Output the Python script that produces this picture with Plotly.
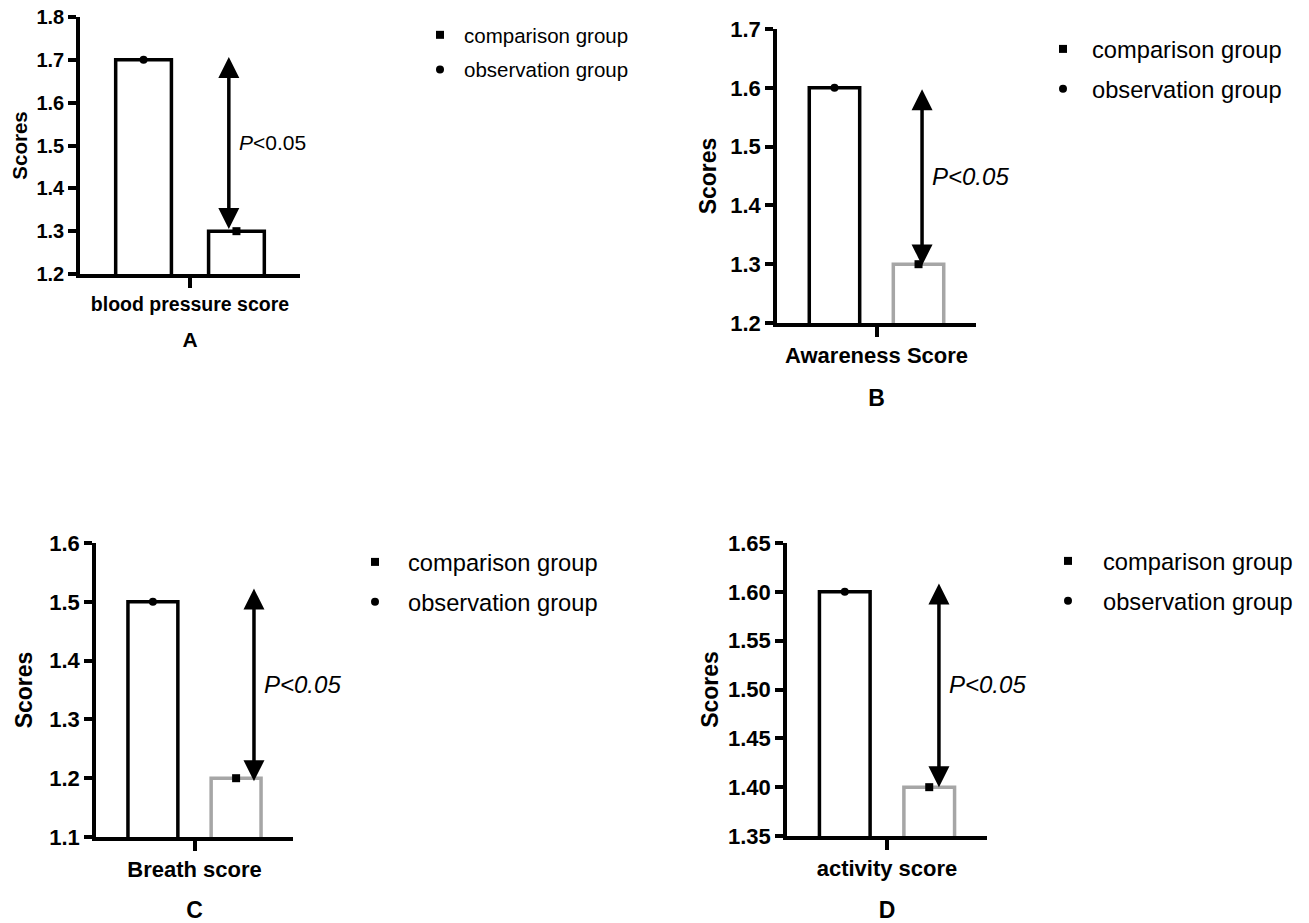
import plotly.graph_objects as go

W, H = 1309, 923

# ---------------- data ----------------
panel_letters = ["A", "B", "C", "D"]
category_labels = ["blood pressure score", "Awareness Score", "Breath score", "activity score"]
observation_name = "observation group"
comparison_name = "comparison group"
observation_scores = [1.7, 1.6, 1.5, 1.6]
comparison_scores = [1.3, 1.3, 1.2, 1.4]
y_ranges = [[1.2, 1.8], [1.2, 1.7], [1.1, 1.6], [1.35, 1.65]]
y_dticks = [0.1, 0.1, 0.1, 0.05]
y_formats = [".1f", ".1f", ".1f", ".2f"]
p_labels = ["<i>P</i>&lt;0.05", "<i>P&lt;0.05</i>", "<i>P&lt;0.05</i>", "<i>P&lt;0.05</i>"]

# ---------------- layout / style (pixels) ----------------
boxes = [(80, 300, 17, 274), (777, 976, 29, 323), (96, 293, 543, 837), (787, 987, 543, 836)]
second_bar_colors = ["#000000", "#a6a6a6", "#a6a6a6", "#a6a6a6"]
tick_sizes = [20, 22, 22, 22]
cat_sizes = [19.5, 22, 22, 22]
ytitle_sizes = [20.5, 23, 23, 23]
letter_sizes = [21, 23, 23, 23]
legend_sizes = [20.5, 23.7, 23.7, 23.7]
p_sizes = [21, 24, 24, 24]
arrow_x = [0.918, 1.042, 1.215, 1.115]
arrow_top_pad = [0.01, 0.0, 0.025, 0.01]
arrow_bot_pad = [0.005, -0.002, -0.005, 0.0]
legend_pos = [(416, 15), (1034, 27), (342, 540), (1033, 539)]
legend_itemwidths = [38, 48, 56, 60]
legend_gaps = [5, 6, 6, 6]
cat_standoff = [19, 24, 24, 24]
ytitle_standoff = [4, 8, 11, 4]

FONT = "Liberation Sans, Arial, sans-serif"
x_range = [-0.684, 1.684]
bar_w = 0.6
LW = 3.5

fig = go.Figure()
layout = dict(
    width=W, height=H, margin=dict(l=0, r=0, t=0, b=0, autoexpand=False),
    paper_bgcolor="white", plot_bgcolor="white",
    font=dict(family=FONT, color="black"),
    showlegend=True,
)

for i in range(4):
    n = "" if i == 0 else str(i + 1)
    xa, ya = "x" + n, "y" + n
    lg = "legend" + n
    x0, x1, y0, y1 = boxes[i]

    fig.add_trace(go.Bar(
        x=[0], y=[observation_scores[i]], width=bar_w, xaxis=xa, yaxis=ya,
        marker=dict(color="white", line=dict(color="black", width=LW)),
        showlegend=False, hoverinfo="skip"))
    fig.add_trace(go.Bar(
        x=[1], y=[comparison_scores[i]], width=bar_w, xaxis=xa, yaxis=ya,
        marker=dict(color="white", line=dict(color=second_bar_colors[i], width=LW)),
        showlegend=False, hoverinfo="skip"))
    fig.add_trace(go.Scatter(
        x=[1], y=[comparison_scores[i]], mode="markers", name=comparison_name,
        xaxis=xa, yaxis=ya, legend=lg, legendgroup="c" + n,
        marker=dict(symbol="square", size=8, color="black"), cliponaxis=False))
    fig.add_trace(go.Scatter(
        x=[0], y=[observation_scores[i]], mode="markers", name=observation_name,
        xaxis=xa, yaxis=ya, legend=lg, legendgroup="o" + n,
        marker=dict(symbol="circle", size=8, color="black"), cliponaxis=False))

    layout["xaxis" + n] = dict(
        domain=[x0 / W, x1 / W], anchor=ya, range=x_range, fixedrange=True, automargin=False,
        showline=True, linecolor="black", linewidth=LW, showgrid=False, zeroline=False,
        tickmode="array", tickvals=[0.5], ticktext=[category_labels[i]],
        ticks="outside", ticklen=10, tickwidth=LW, tickcolor="black",
        tickfont=dict(size=cat_sizes[i], weight="bold", family=FONT),
        title=dict(text=panel_letters[i], standoff=cat_standoff[i],
                   font=dict(size=letter_sizes[i], weight="bold", family=FONT)))
    layout["yaxis" + n] = dict(
        domain=[1 - y1 / H, 1 - y0 / H], anchor=xa, range=y_ranges[i], fixedrange=True, automargin=False,
        showline=True, linecolor="black", linewidth=LW, showgrid=False, zeroline=False,
        tick0=y_ranges[i][0], dtick=y_dticks[i], tickformat=y_formats[i],
        ticks="outside", ticklen=8, tickwidth=LW, tickcolor="black",
        tickfont=dict(size=tick_sizes[i], weight="bold", family=FONT),
        title=dict(text="Scores", standoff=ytitle_standoff[i],
                   font=dict(size=ytitle_sizes[i], weight="bold", family=FONT)))
    lx, ly = legend_pos[i]
    layout[lg] = dict(
        x=lx / W, y=1 - ly / H, xanchor="left", yanchor="top",
        font=dict(size=legend_sizes[i], family=FONT, color="black"),
        bgcolor="rgba(0,0,0,0)", borderwidth=0, tracegroupgap=legend_gaps[i],
        itemwidth=legend_itemwidths[i])

    top = observation_scores[i] + arrow_top_pad[i]
    bot = comparison_scores[i] + arrow_bot_pad[i]
    fig.add_annotation(
        x=arrow_x[i], y=bot, ax=arrow_x[i], ay=top,
        xref=xa, yref=ya, axref=xa, ayref=ya, text="", showarrow=True,
        arrowhead=2, startarrowhead=2, arrowside="end+start",
        arrowsize=1.2, startarrowsize=1.2, arrowwidth=LW, arrowcolor="black")
    fig.add_annotation(
        x=arrow_x[i], y=(top + bot) / 2, xref=xa, yref=ya, text=p_labels[i],
        showarrow=False, xanchor="left", yanchor="middle", xshift=8,
        font=dict(size=p_sizes[i], family=FONT, color="black"))

fig.update_layout(**layout)
fig.write_html(
    "out.html",
    config={"displayModeBar": False},
    post_script="document.body.style.margin='0';document.body.style.overflow='hidden';",
)
